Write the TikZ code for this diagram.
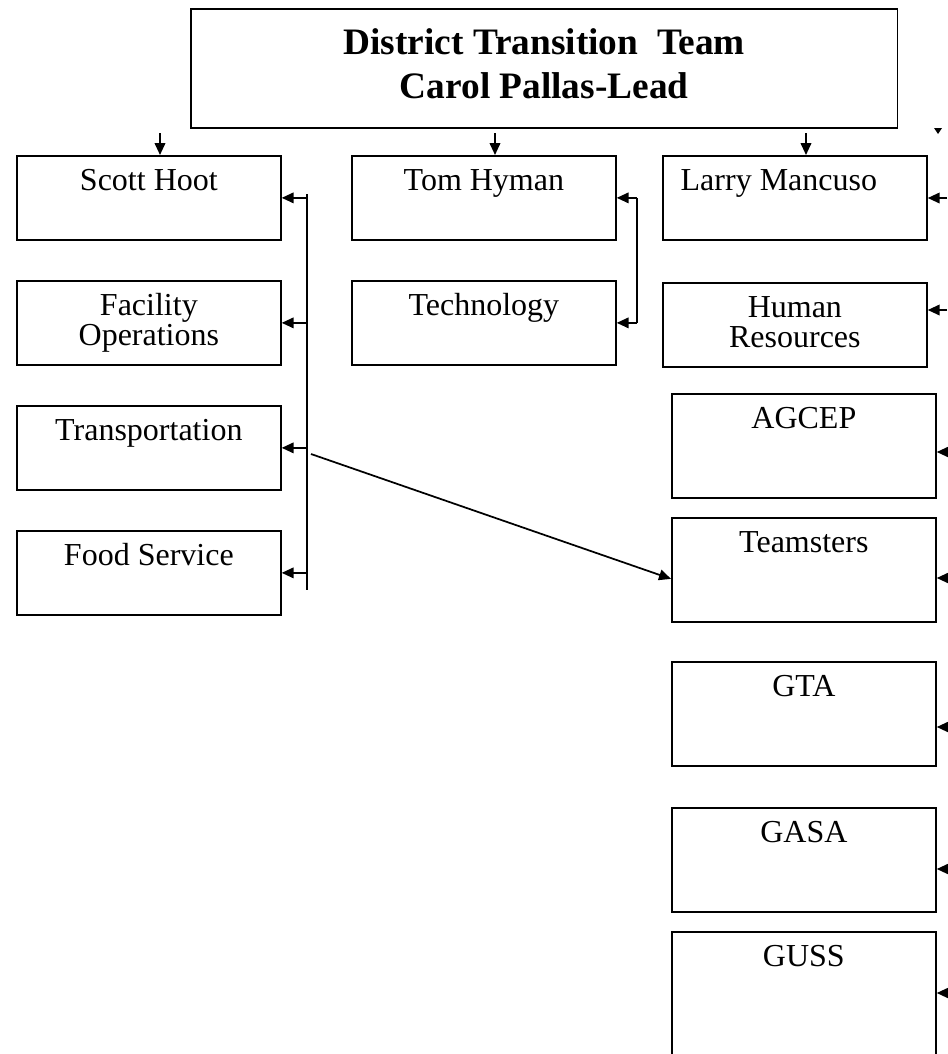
\documentclass[tikz,border=0pt]{standalone}
\usepackage{fontspec}
\setmainfont{Liberation Serif}
\usetikzlibrary{arrows.meta}

\begin{document}
\begin{tikzpicture}[x=0.75pt, y=-0.75pt, line width=1.3pt, ->,
        >={Triangle[length=9pt,width=8pt]},
        every node/.append style={font=\fontsize{24}{22.5}\selectfont}]
      \tikzstyle{unit} = [draw, -, anchor=north west, inner xsep=0pt, inner ysep=0pt,
        minimum width=198pt, align=center, text height=26pt, text depth=37pt]
      \tikzstyle{twoline} = [unit, text height=48.5pt, text depth=14.5pt]
      \tikzstyle{union} = [unit, text depth=52pt]
      \useasboundingbox (0,0) rectangle (947,1054);
      \node (TEAM) [unit, minimum width=530pt, text height=67.5pt, text depth=21.75pt,
        font=\bfseries\fontsize{28}{33}\selectfont] at (190,8) {District Transition\ \ Team\\Carol Pallas-Lead};
      \node (ScottHoot) [unit] at (16,155) {Scott Hoot};
      \node (Facility) [twoline] at (16,280) {Facility\\Operations};
      \node (Transportation) [unit] at (16,405) {Transportation};
      \node (FoodService) [unit] at (16,530) {Food Service};
      \node (TomHyman) [unit] at (351,155) {Tom Hyman};
      \node (Technology) [unit] at (351,280) {Technology};
      \node (LarryMancuso) [unit] at (662,155) {Larry Mancuso\hspace*{24pt}};
      \node (HumanResources) [twoline] at (662,282) {Human\\Resources};
      \node (AGCEP) [union] at (671,393) {AGCEP};
      \node (Teamsters) [union] at (671,517) {Teamsters};
      \node (GTA) [union] at (671,661) {GTA};
      \node (GASA) [union] at (671,807) {GASA};
      \node (GUSS) [union, text depth=72pt] at (671,931) {GUSS};
      \coordinate (downA) at (160,133);
      \coordinate (downB) at (495,133);
      \coordinate (downC) at (806,133);
      \draw (downA) -- (downA |- ScottHoot.north);
      \draw (downB) -- (downB |- TomHyman.north);
      \draw (downC) -- (downC |- LarryMancuso.north);
      \coordinate (LB) at (307,194);
      \coordinate (LBend) at (307,590);
      \draw[-] (LB) -- (LBend);
      \foreach \n in {ScottHoot, Facility, Transportation, FoodService}
        \draw (LB |- \n.east) -- (\n.east);
      \coordinate (TB) at (637,0);
      \draw[-] (TB |- TomHyman.east) -- (TB |- Technology.east);
      \draw (TB |- TomHyman.east) -- (TomHyman.east);
      \draw (TB |- Technology.east) -- (Technology.east);
      \coordinate (DG) at (311,454);
      \draw (DG) -- ([yshift=-6.75pt]Teamsters.west);
      \coordinate (RIM) at (947,0);
      \foreach \n/\y in {LarryMancuso/198, HumanResources/310, AGCEP/452, Teamsters/578, GTA/727, GASA/869, GUSS/993}
        \draw (RIM |- 0,\y) -- (\n.east |- 0,\y);
      \fill (934,128) -- (942,128) -- (938,134) -- cycle;
    \end{tikzpicture}
\end{document}
